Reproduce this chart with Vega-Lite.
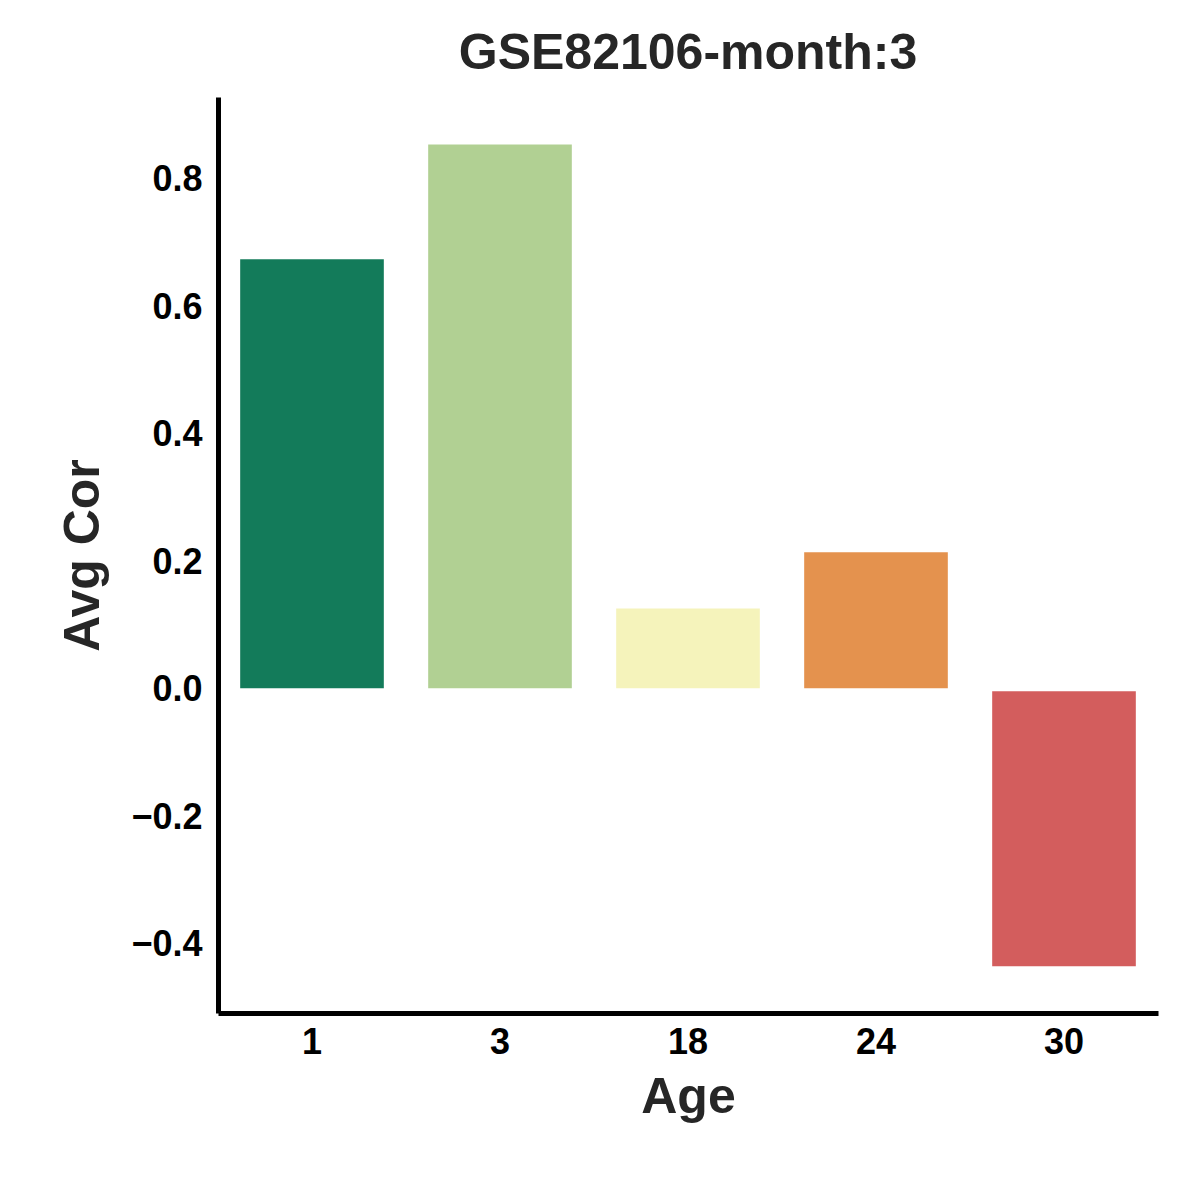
{
"$schema":"https://vega.github.io/schema/vega-lite/v6.json",
"width":940,"height":916,
"autosize":{"type":"none"},
"padding":{"left":218,"top":97,"right":27,"bottom":164},
"background":"white",
"title":{"text":"GSE82106-month:3","font":"Liberation Sans","fontSize":50,"fontWeight":"bold","color":"#262626","offset":18},
"data":{"values":[
{"Age":"1","v":0.678,"c":"#137b5a"},
{"Age":"3","v":0.858,"c":"#b1d093"},
{"Age":"18","v":0.130,"c":"#f5f3bb"},
{"Age":"24","v":0.218,"c":"#e4924e"},
{"Age":"30","v":-0.436,"c":"#d35d5d"}]},
"mark":{"type":"bar","stroke":"white","strokeWidth":3},
"encoding":{
"x":{"field":"Age","type":"nominal","sort":null,"scale":{"paddingInner":0.22,"paddingOuter":0.11},
"axis":{"labelAngle":0,"ticks":false,"domainWidth":5,"domainColor":"black","labelFont":"Liberation Sans","labelFontSize":36,"labelFontWeight":"bold","labelColor":"black","labelPadding":12,"title":"Age","titleFont":"Liberation Sans","titleFontSize":50,"titleFontWeight":"bold","titleColor":"#262626","titlePadding":12}},
"y":{"field":"v","type":"quantitative","scale":{"domain":[-0.507,0.93],"nice":false,"zero":false},
"axis":{"values":[-0.4,-0.2,0,0.2,0.4,0.6,0.8],"format":".1f","grid":false,"ticks":false,"domainWidth":5,"domainColor":"black","labelFont":"Liberation Sans","labelFontSize":36,"labelFontWeight":"bold","labelColor":"black","labelPadding":16,"title":"Avg Cor","titleFont":"Liberation Sans","titleFontSize":50,"titleFontWeight":"bold","titleColor":"#262626","titlePadding":22}},
"color":{"field":"c","type":"nominal","scale":null}},
"config":{"view":{"stroke":null},"locale":{"number":{"decimal":".","thousands":",","grouping":[3],"currency":["$",""],"minus":"−"}}}
}
